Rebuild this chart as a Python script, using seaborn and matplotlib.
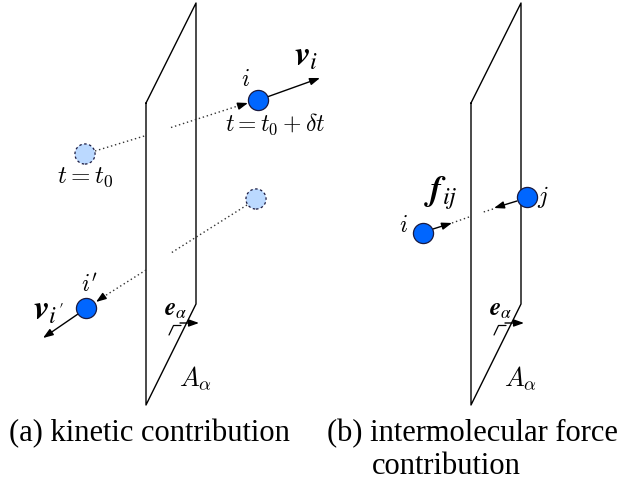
import matplotlib
matplotlib.use("Agg")
import matplotlib.pyplot as plt
import seaborn as sns
import pandas as pd

sns.set_theme(style="white")
plt.rcParams['font.family'] = ['Liberation Serif', 'DejaVu Serif']
plt.rcParams['mathtext.fontset'] = 'cm'
plt.rcParams['text.color'] = 'black'

# ---- data (pixel coordinates of the schematic) ----
plane_a_x = [146, 196, 196, 146, 146]
plane_a_y = [103, 3, 304, 405, 103]
panel_shift = 325

particle_x = [258, 86, 527, 423]
particle_y = [100, 308, 197, 233]
ghost_x = [85, 256]
ghost_y = [154, 199]

caption_a = "(a) kinetic contribution"
caption_b1 = "(b) intermolecular force"
caption_b2 = "contribution"

BLUE = "#0066ff"
LIGHT = "#bbd9ff"
EDGE = "#1a1a40"

fig = plt.figure(figsize=(6.19, 4.83), dpi=100)
ax = fig.add_axes([0, 0, 1, 1])

# planes
for sh in (0, panel_shift):
    ax.plot([x + sh for x in plane_a_x], plane_a_y, color="black", lw=1.0, zorder=1)

# dotted trajectories
dot = dict(color="#333333", lw=1.0, ls=(0, (1, 2)), zorder=1)
ax.plot([95, 146], [151, 135.5], **dot)
ax.plot([171, 244], [127.5, 104], **dot)
ax.plot([247, 171], [205, 253], **dot)
ax.plot([146, 100], [270, 299], **dot)
ax.plot([493, 482], [209, 212.5], **dot)
ax.plot([452, 469], [223, 217], **dot)

def arrow(x0, y0, x1, y1):
    ax.annotate("", xy=(x1, y1), xytext=(x0, y0),
                arrowprops=dict(arrowstyle="-|>,head_length=0.5,head_width=0.18",
                                color="black", lw=1.0, shrinkA=0, shrinkB=0), zorder=3)

# arrowheads at ends of dotted paths
arrow(240, 105.5, 248, 103)
arrow(103, 297, 96, 302)
# velocity arrows
arrow(267, 97, 320, 78)
arrow(78, 314, 43, 338)
# forces
arrow(517, 201, 494, 208)
arrow(433, 229, 452, 223)
# normal vectors
for sh in (0, panel_shift):
    arrow(180 + sh, 323, 199 + sh, 323)
    ax.plot([169 + sh, 173.5 + sh, 181 + sh], [335, 325.5, 325.5], color="black", lw=0.9, zorder=2)

# particles via seaborn
df_p = pd.DataFrame({"x": particle_x, "y": particle_y})
df_g = pd.DataFrame({"x": ghost_x, "y": ghost_y})
sns.scatterplot(data=df_g, x="x", y="y", ax=ax, s=210, color=LIGHT,
                edgecolor=EDGE, linewidth=0.9, zorder=4, legend=False)
ax.collections[-1].set_linestyle((0, (2, 2)))
sns.scatterplot(data=df_p, x="x", y="y", ax=ax, s=210, color=BLUE,
                edgecolor=EDGE, linewidth=0.9, zorder=4, legend=False)
ax.set_xlim(0, 619)
ax.set_ylim(483, 0)
ax.axis("off")

# labels
def lab(x, y, s, size, **kw):
    ax.text(x, y, s, fontsize=size, ha="center", va="center", color="black", **kw)

lab(245, 81, r"$i$", 17)
lab(306, 57, r"$\mathbfit{v}_{i}$", 25, math_fontfamily="stix")
lab(275, 124, r"$t = t_0 + \delta t$", 17)
lab(85, 177, r"$t = t_0$", 18)
lab(90, 285, r"$i'$", 17)
lab(49, 312, r"$\mathbfit{v}_{i'}$", 25, math_fontfamily="stix")
for sh in (0, panel_shift):
    lab(176 + sh, 310, r"$\mathbfit{e}_{\alpha}$", 18, math_fontfamily="stix")
    lab(195 + sh, 378, r"$A_{\alpha}$", 19)
lab(543, 197, r"$j$", 17)
lab(403, 227, r"$i$", 17)
lab(441, 193, r"$\mathbfit{f}_{ij}$", 25, math_fontfamily="stix")

ax.text(149, 434, caption_a, fontsize=22, ha="center", va="center", color="black")
ax.text(472, 434, caption_b1, fontsize=22, ha="center", va="center", color="black")
ax.text(446, 466, caption_b2, fontsize=22, ha="center", va="center", color="black")

fig.savefig("out.png", dpi=100)
